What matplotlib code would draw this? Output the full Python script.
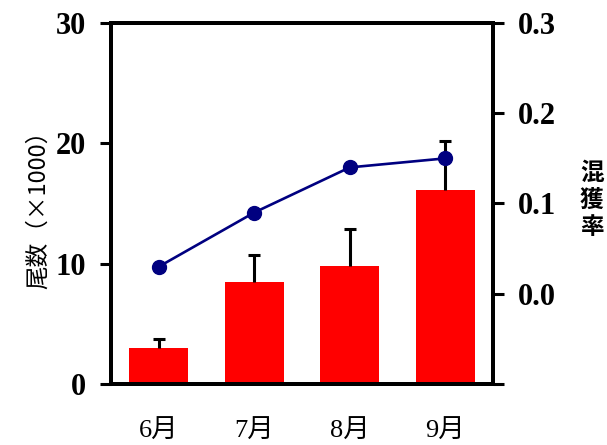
import matplotlib
matplotlib.use('Agg')
import matplotlib.pyplot as plt
import numpy as np

months = ['6月', '7月', '8月', '9月']
counts = [3.0, 8.5, 9.8, 16.1]          # 尾数 (x1000)
count_err = [0.7, 2.25, 3.1, 4.1]
bycatch = [0.03, 0.09, 0.14, 0.15]       # 混獲率

serif = ['Liberation Serif', 'Noto Sans CJK JP']
sans = ['Noto Sans CJK JP', 'DejaVu Sans']

fig = plt.figure(figsize=(6.07, 4.45), dpi=100)
ax = fig.add_axes([0.1829, 0.1371, 0.6293, 0.8112])
ax2 = ax.twinx()

x = np.arange(len(months))
ax.bar(x, counts, width=0.62, color='#ff0000', zorder=2)
eb = ax.errorbar(x, counts, yerr=[np.zeros(len(counts)), count_err], fmt='none',
                 ecolor='black', elinewidth=2.2, capsize=4.5, capthick=2.2, zorder=3)
# upper error only: hide the lower caps
eb[1][0].set_visible(False)

ax2.plot(x, bycatch, color='#000080', lw=1.9, marker='o', ms=10, zorder=5)

ax.set_xlim(-0.5, 3.5)
ax.set_ylim(0, 30)
ax.set_yticks([0, 10, 20, 30])
ax2.set_ylim(-0.1, 0.3)
ax2.set_yticks([-0.1, 0.0, 0.1, 0.2, 0.3])
ax2.set_yticklabels(['', '0.0', '0.1', '0.2', '0.3'])

ax.set_xticks(x)
ax.set_xticklabels(months, family=serif, fontsize=19)
ax.tick_params(axis='x', length=0, pad=26)
ax.tick_params(axis='y', length=8, width=2.2, pad=10)
ax2.tick_params(axis='y', length=8, width=2.2, pad=10)
for lab in ax.get_yticklabels() + ax2.get_yticklabels():
    lab.set_family(serif)
    lab.set_fontweight('bold')
    lab.set_fontsize(22)

for a in (ax, ax2):
    for s in a.spines.values():
        s.set_linewidth(2.8)

ax.set_ylabel('尾数（×1000）', family=sans, fontsize=17, labelpad=4)
fig.text(0.975, 0.55, '混\n獲\n率', family=sans, fontsize=17, fontweight='bold',
         ha='center', va='center', linespacing=1.15)

fig.savefig('out.png', dpi=100)
